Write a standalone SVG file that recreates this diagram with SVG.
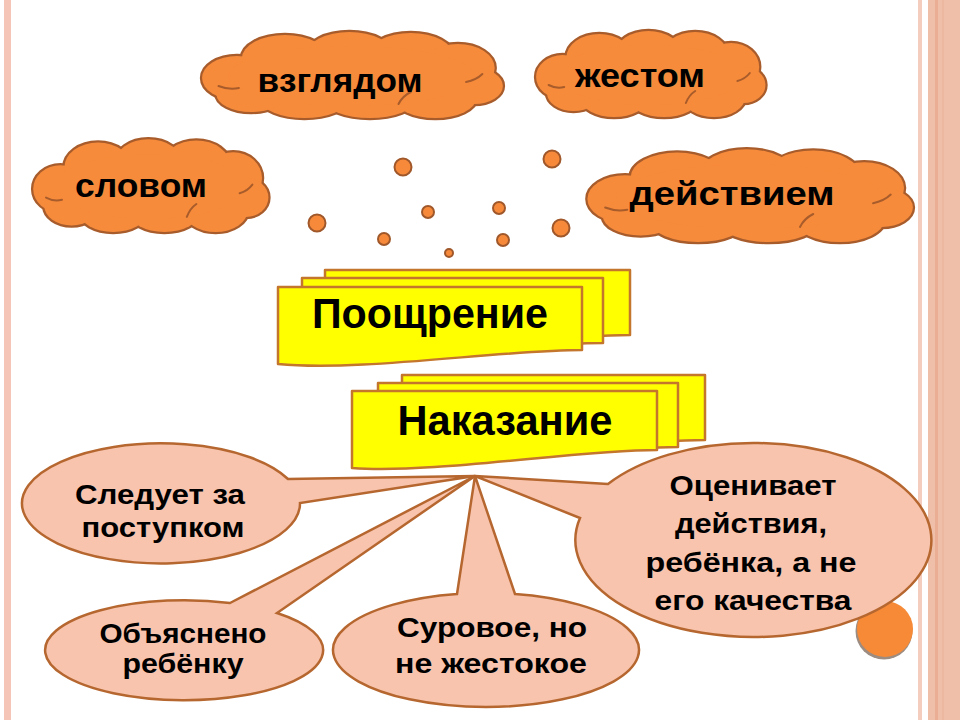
<svg xmlns="http://www.w3.org/2000/svg" xmlns:xlink="http://www.w3.org/1999/xlink" width="960" height="720" viewBox="0 0 960 720">
<style>
.cl-text{font-family:"Liberation Sans","DejaVu Sans",sans-serif;font-weight:bold;font-size:34px;fill:#000;text-anchor:middle}
.bn-text{font-family:"Liberation Sans","DejaVu Sans",sans-serif;font-weight:bold;font-size:42px;fill:#000;text-anchor:middle}
.co-text{font-family:"Liberation Sans","DejaVu Sans",sans-serif;font-weight:bold;font-size:28px;fill:#000;text-anchor:middle}
.banner{fill:#ffff00;stroke:#c4762c;stroke-width:2.5;stroke-linejoin:round}
.callout{fill:#f8c4ae;stroke:#b6672f;stroke-width:2.5;stroke-linejoin:miter}
.dot{fill:#f68a3a;stroke:#a0582b;stroke-width:2}
</style>
<defs>
<g id="cl">
<ellipse cx="38" cy="50" rx="34" ry="22" vector-effect="non-scaling-stroke"/>
<ellipse cx="85" cy="30" rx="42" ry="23" vector-effect="non-scaling-stroke"/>
<ellipse cx="148" cy="26" rx="42" ry="22" vector-effect="non-scaling-stroke"/>
<ellipse cx="208" cy="28" rx="42" ry="23" vector-effect="non-scaling-stroke"/>
<ellipse cx="254" cy="40" rx="36" ry="24" vector-effect="non-scaling-stroke"/>
<ellipse cx="270" cy="58" rx="28" ry="18" vector-effect="non-scaling-stroke"/>
<ellipse cx="232" cy="70" rx="40" ry="20" vector-effect="non-scaling-stroke"/>
<ellipse cx="168" cy="72" rx="44" ry="18" vector-effect="non-scaling-stroke"/>
<ellipse cx="104" cy="72" rx="42" ry="18" vector-effect="non-scaling-stroke"/>
<ellipse cx="52" cy="66" rx="34" ry="18" vector-effect="non-scaling-stroke"/>
<ellipse cx="150" cy="48" rx="120" ry="30" vector-effect="non-scaling-stroke"/>
</g>
<g id="cloud">
<use xlink:href="#cl" fill="#a85c2b" stroke="#a85c2b" stroke-width="4.5"/>
<use xlink:href="#cl" fill="#f68b3b" stroke="none"/>
<g fill="none" stroke="#a85c2b" stroke-width="2" stroke-linecap="round">
<path d="M 20 58 Q 30 62 40 60" vector-effect="non-scaling-stroke"/>
<path d="M 262 54 Q 272 52 278 46" vector-effect="non-scaling-stroke"/>
<path d="M 196 76 Q 200 68 208 64" vector-effect="non-scaling-stroke"/>
</g>
</g>
</defs>

<rect x="0" y="0" width="960" height="720" fill="#ffffff"/>

<g id="frame">
<rect x="4" y="0" width="7" height="720" fill="#f5c5b8"/>
<rect x="918" y="0" width="4" height="720" fill="#f5cdbf"/>
<rect x="928" y="0" width="32" height="720" fill="#f0bfaa"/>
<rect x="935" y="0" width="3" height="720" fill="#eaae94"/>
<rect x="942" y="0" width="2" height="720" fill="#edb8a0"/>
</g>

<g id="cloud-vzglyadom">
<use xlink:href="#cloud" transform="translate(198,28) scale(1.023,1)"/>
<text class="cl-text" x="340" y="92" textLength="165" lengthAdjust="spacingAndGlyphs">взглядом</text>
</g>
<g id="cloud-zhestom">
<use xlink:href="#cloud" transform="translate(533,27) scale(0.78,1)"/>
<text class="cl-text" x="640" y="87" textLength="130" lengthAdjust="spacingAndGlyphs">жестом</text>
</g>
<g id="cloud-slovom">
<use xlink:href="#cloud" transform="translate(30,135) scale(0.8,1.078)"/>
<text class="cl-text" x="141" y="197" textLength="132" lengthAdjust="spacingAndGlyphs">словом</text>
</g>
<g id="cloud-deystviem">
<use xlink:href="#cloud" transform="translate(583,145) scale(1.107,1.078)"/>
<text class="cl-text" x="732" y="205" textLength="205" lengthAdjust="spacingAndGlyphs">действием</text>
</g>

<g id="dots">
<circle class="dot" cx="403" cy="167" r="8.5"/>
<circle class="dot" cx="552" cy="159" r="8.5"/>
<circle class="dot" cx="317" cy="223" r="8.5"/>
<circle class="dot" cx="561" cy="228" r="8.5"/>
<circle class="dot" cx="428" cy="212" r="6"/>
<circle class="dot" cx="499" cy="208" r="6"/>
<circle class="dot" cx="384" cy="239" r="6"/>
<circle class="dot" cx="503" cy="240" r="6"/>
<circle class="dot" cx="449" cy="253" r="4"/>
</g>

<g id="corner-circle">
<circle cx="884" cy="631" r="28.5" fill="#9c8c82"/>
<circle cx="885" cy="629" r="28" fill="#f68a36"/>
</g>

<g id="callout-sleduet">
<path class="callout" d="M 288 479 L 475 476 L 300 503 A 139 60 0 1 1 288 479 Z"/>
<text class="co-text" x="160" y="504" textLength="170" lengthAdjust="spacingAndGlyphs">Следует за</text>
<text class="co-text" x="163" y="537" textLength="163" lengthAdjust="spacingAndGlyphs">поступком</text>
</g>
<g id="callout-obyasneno">
<path class="callout" d="M 230 603 L 475 476 L 277 613 A 139 50 0 1 1 230 603 Z"/>
<text class="co-text" x="183" y="643" textLength="167" lengthAdjust="spacingAndGlyphs">Объяснено</text>
<text class="co-text" x="183" y="673" textLength="121" lengthAdjust="spacingAndGlyphs">ребёнку</text>
</g>
<g id="callout-surovoe">
<path class="callout" d="M 457 594 L 475 476 L 515 594 A 153 57 0 1 1 457 594 Z"/>
<text class="co-text" x="492" y="637" textLength="190" lengthAdjust="spacingAndGlyphs">Суровое, но</text>
<text class="co-text" x="491" y="673" textLength="192" lengthAdjust="spacingAndGlyphs">не жестокое</text>
</g>
<g id="callout-otsenivaet">
<path class="callout" d="M 608 484 L 475 476 L 580 518 A 178 97 0 1 0 608 484 Z"/>
<text class="co-text" x="753" y="495" textLength="167" lengthAdjust="spacingAndGlyphs">Оценивает</text>
<text class="co-text" x="751" y="533" textLength="152" lengthAdjust="spacingAndGlyphs">действия,</text>
<text class="co-text" x="751" y="572" textLength="211" lengthAdjust="spacingAndGlyphs">ребёнка, а не</text>
<text class="co-text" x="753" y="610" textLength="197" lengthAdjust="spacingAndGlyphs">его качества</text>
</g>

<g id="banner-pooshchrenie">
<path class="banner" d="M 325 270 H 630 V 335 C 550 335 410 357 325 350 Z"/>
<path class="banner" d="M 302 278 H 603 V 343 C 520 343 380 365 302 357 Z"/>
<path class="banner" d="M 278 287 H 582 V 350 C 500 350 360 372 278 364 Z"/>
<text class="bn-text" x="430" y="328" textLength="236" lengthAdjust="spacingAndGlyphs">Поощрение</text>
</g>
<g id="banner-nakazanie">
<path class="banner" d="M 402 375 H 705 V 440 C 625 440 485 462 402 455 Z"/>
<path class="banner" d="M 378 383 H 678 V 447 C 600 447 460 469 378 462 Z"/>
<path class="banner" d="M 352 391 H 657 V 450 C 575 450 435 474 352 468 Z"/>
<text class="bn-text" x="505" y="435" textLength="215" lengthAdjust="spacingAndGlyphs">Наказание</text>
</g>

<g id="connectors"/>
</svg>
